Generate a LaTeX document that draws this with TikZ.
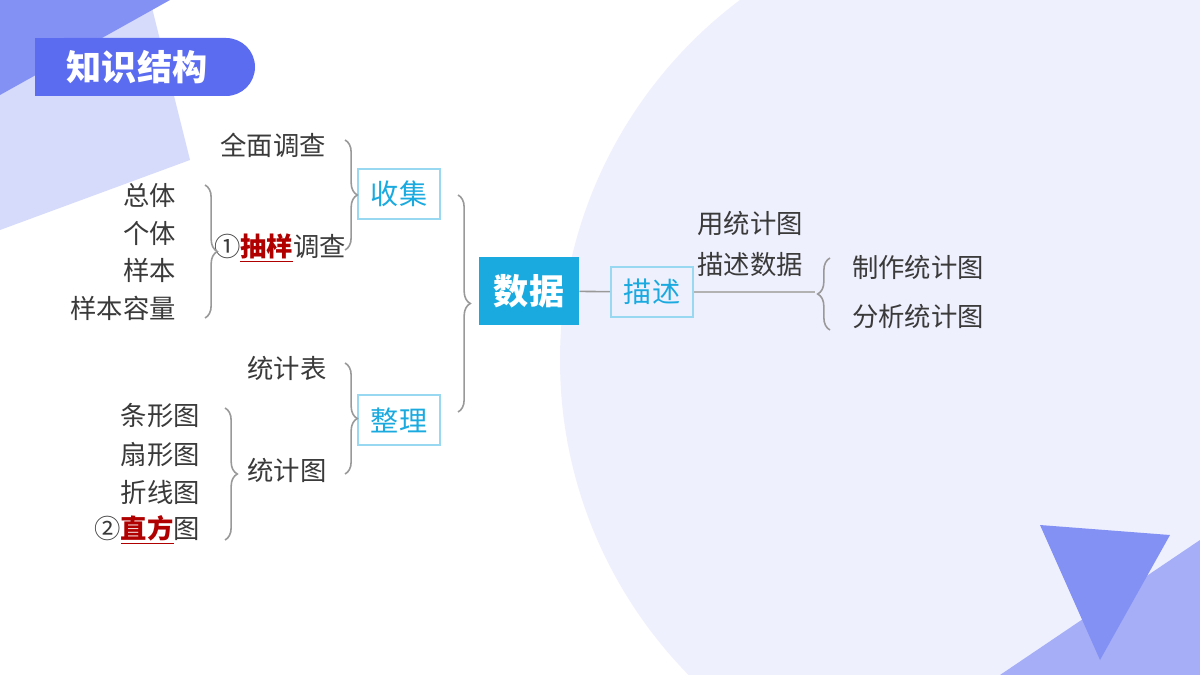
\documentclass[tikz,border=0pt]{standalone}
\usepackage{fontspec}
\setmainfont{Noto Sans CJK SC}
\usetikzlibrary{decorations.pathreplacing}
\definecolor{topic}{HTML}{1AAAE0}
\definecolor{banner}{HTML}{5B6CF0}
\definecolor{lav}{HTML}{EEF0FD}
\definecolor{ink}{HTML}{3A3A3A}
\definecolor{mark}{HTML}{B00000}
\tikzstyle{mainTopic}=[fill = topic, text = white, font = \bfseries\fontsize{20}{24}\selectfont, minimum width = 2.0cm, minimum height = 1.35cm]
\tikzstyle{subTopic}=[draw = topic!45, line width = 1pt, text = topic, font = \fontsize{16}{19}\selectfont, minimum width = 1.65cm, minimum height = 1.0cm]
\tikzstyle{leaf}=[text = ink, font = \fontsize{15}{23}\selectfont, inner sep = 1pt]
\tikzstyle{bracket}=[draw = gray!80, line width = 0.9pt, decorate, decoration = {brace, amplitude = 7pt}]
\newcommand{\hl}[1]{\textcolor{mark}{\bfseries\underline{#1}}}
\begin{document}
\begin{tikzpicture}[x = 0.02cm, y = -0.02cm]
\useasboundingbox (0,0) rectangle (1200,675);
\fill[white] (0,0) rectangle (1200,675);
\begin{scope}
\clip (0,0) rectangle (1200,675);
\fill[lav] (1010,360) circle (450);
\fill[banner!25] (0,0) -- (150,0) -- (190,160) -- (0,230) -- cycle;
\fill[banner!75] (0,0) -- (170,0) -- (0,95) -- cycle;
\fill[banner!55] (1000,675) -- (1200,540) -- (1200,675) -- cycle;
\fill[banner!75] (1040,525) -- (1170,535) -- (1100,660) -- cycle;
\end{scope}
\fill[banner, rounded corners = 0.58cm] (35,38) rectangle (255,96);
\fill[banner] (35,38) rectangle (100,96);
\node[text = white, font = \bfseries\fontsize{20}{24}\selectfont] (title) at (137,67) {知识结构};
% topics
\node[mainTopic] (data) at (529,291) {数据};
\node[subTopic] (collect) at (399,194) {收集};
\node[subTopic] (arrange) at (399,420) {整理};
\node[subTopic] (describe) at (652,292) {描述};
% leaves
\node[leaf] (census) at (273,145) {全面调查};
\node[leaf] (sample) at (280,248) {①\hl{抽样}调查};
\node[leaf, anchor = east] (pop) at (178,195) {总体};
\node[leaf, anchor = east] (indiv) at (178,233) {个体};
\node[leaf, anchor = east] (samp) at (178,270) {样本};
\node[leaf, anchor = east] (size) at (178,308) {样本容量};
\node[leaf] (table) at (287,368) {统计表};
\node[leaf] (chart) at (287,470) {统计图};
\node[leaf, anchor = east] (bar) at (202,416) {条形图};
\node[leaf, anchor = east] (pie) at (202,455) {扇形图};
\node[leaf, anchor = east] (line) at (202,492) {折线图};
\node[leaf, anchor = east] (hist) at (202,530) {②\hl{直方}图};
\node[leaf, align = center] (use) at (750,244) {用统计图\\描述数据};
\node[leaf] (make) at (918,267) {制作统计图};
\node[leaf] (analyse) at (918,316) {分析统计图};
% brackets
\coordinate (b1t) at (345,140); \coordinate (b1b) at (345,250);
\coordinate (b2t) at (345,363); \coordinate (b2b) at (345,474);
\coordinate (b3t) at (205,185); \coordinate (b3b) at (205,318);
\coordinate (b4t) at (225,408); \coordinate (b4b) at (225,540);
\coordinate (b5t) at (458,195); \coordinate (b5b) at (458,412);
\coordinate (b6t) at (830,258); \coordinate (b6b) at (830,330);
\draw[bracket] (b1t) -- (b1b);
\draw[bracket] (b2t) -- (b2b);
\draw[bracket] (b3t) -- (b3b);
\draw[bracket] (b4t) -- (b4b);
\draw[bracket] (b5t) -- (b5b);
\draw[bracket] (b6b) -- (b6t);
\draw[gray!80, line width = 0.9pt] (data) -- (describe);
\draw[gray!60, line width = 0.9pt] (describe.east) -- (815,292);
\end{tikzpicture}
\end{document}
